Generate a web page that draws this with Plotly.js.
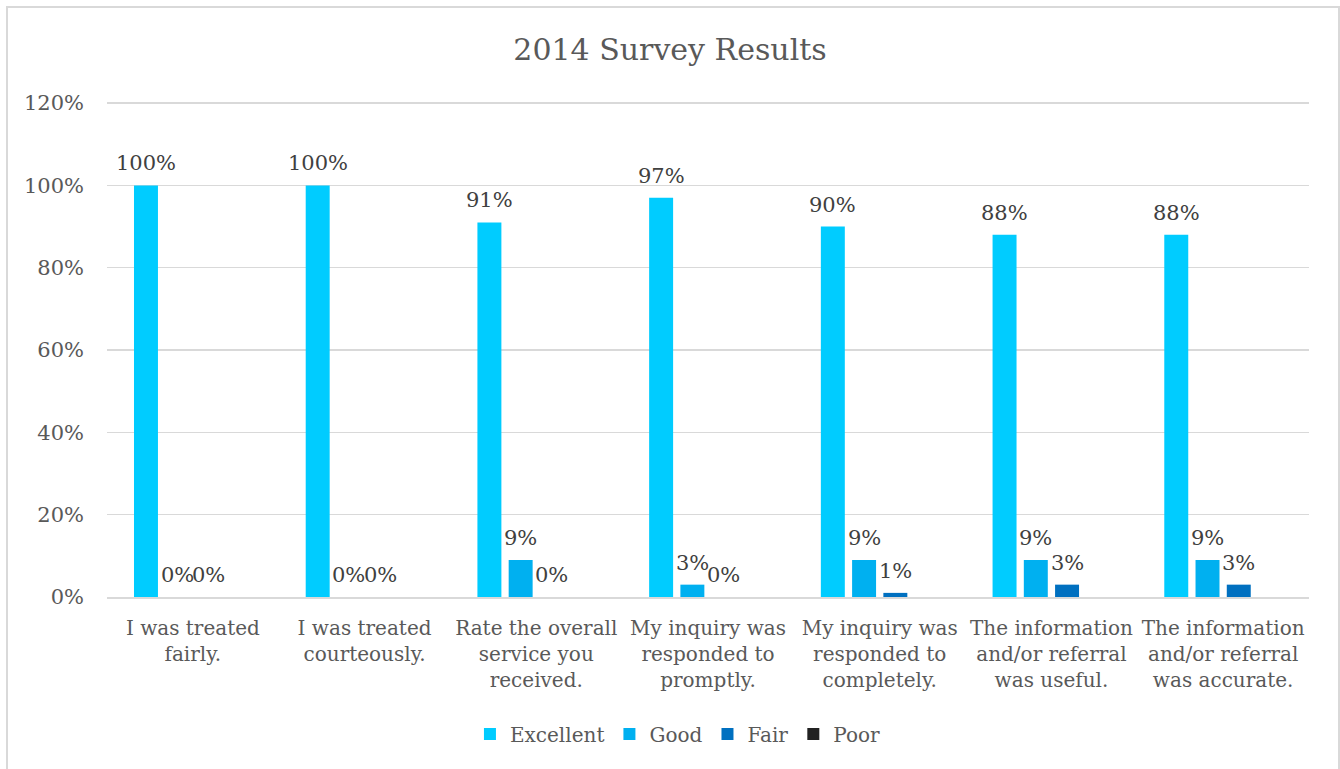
<!DOCTYPE html>
<html>
<head>
<meta charset="utf-8">
<script src="https://cdn.plot.ly/plotly-3.0.1.min.js"></script>
<style>
  html, body { margin: 0; padding: 0; background: #ffffff; overflow: hidden; width: 1340px; height: 769px; }
  #chart { position: absolute; left: 0; top: 0; width: 1340px; height: 769px; }
  #frame { position: absolute; left: 6px; top: 6px; width: 1330px; height: 770px; border: 2px solid #d9d9d9; border-bottom: none; pointer-events: none; box-sizing: content-box; }
</style>
</head>
<body>
<div id="chart"></div>
<div id="frame"></div>
<script>
const categories = [
  "I was treated<br>fairly.",
  "I was treated<br>courteously.",
  "Rate the overall<br>service you<br>received.",
  "My inquiry was<br>responded to<br>promptly.",
  "My inquiry was<br>responded to<br>completely.",
  "The information<br>and/or referral<br>was useful.",
  "The information<br>and/or referral<br>was accurate."
];
const excellent = [1.00, 1.00, 0.91, 0.97, 0.90, 0.88, 0.88];
const good      = [0.00, 0.00, 0.09, 0.03, 0.09, 0.09, 0.09];
const fair      = [0.00, 0.00, 0.00, 0.00, 0.01, 0.03, 0.03];
const poor      = [0.00, 0.00, 0.00, 0.00, 0.00, 0.00, 0.00];
const seriesNames = ["Excellent", "Good", "Fair", "Poor"];
const labelledSeries = [true, true, true, false];
const yTickVals = [0, 0.2, 0.4, 0.6, 0.8, 1.0, 1.2];
const yTickText = ["0%", "20%", "40%", "60%", "80%", "100%", "120%"];

const FONT = "'DejaVu Serif', 'Liberation Serif', serif";
const colors = ["#00CCFF", "#00B0F0", "#0070C0", "#222222"];
const values = [excellent, good, fair, poor];

const W = 1340, H = 769;
const M = { l: 107, r: 31, t: 99, b: 172 };
const BARGAP = 0.272, BARGROUPGAP = 0.233;

const traces = values.map((v, i) => ({
  type: "bar",
  name: seriesNames[i],
  x: categories,
  y: v,
  marker: { color: colors[i] },
  textposition: "none",
  hoverinfo: "skip"
}));

// data labels: anchored on each bar's (category, value) through the axes,
// shifted sideways to the bar's slot within the group
const plotW = W - M.l - M.r;
const catW = plotW / categories.length;
const slot = catW * (1 - BARGAP) / values.length;
const annotations = [];
values.forEach((v, i) => {
  if (!labelledSeries[i]) return;
  v.forEach((val, j) => {
    annotations.push({
      x: categories[j], y: val, xref: "x", yref: "y",
      text: Math.round(val * 100) + "%",
      showarrow: false,
      xanchor: "center", yanchor: "bottom",
      xshift: (i - (values.length - 1) / 2) * slot,
      yshift: 8,
      font: { family: FONT, size: 21, color: "#404040" }
    });
  });
});

const layout = {
  width: W,
  height: H,
  paper_bgcolor: "rgba(0,0,0,0)",
  plot_bgcolor: "#ffffff",
  margin: { l: M.l, r: M.r, t: M.t, b: M.b, autoexpand: false },
  title: {
    text: "2014 Survey Results",
    font: { family: FONT, size: 30, color: "#595959" },
    x: 0.5, xanchor: "center",
    y: 0.935, yanchor: "middle"
  },
  barmode: "group",
  bargap: BARGAP,
  bargroupgap: BARGROUPGAP,
  showlegend: true,
  legend: {
    orientation: "h",
    x: 0.475, xanchor: "center",
    y: -0.275, yanchor: "middle",
    font: { family: FONT, size: 20, color: "#595959" },
    itemwidth: 30,
    traceorder: "normal"
  },
  annotations: annotations,
  xaxis: {
    type: "category",
    tickfont: { family: FONT, size: 20, color: "#595959" },
    showgrid: false,
    showline: true,
    linecolor: "#d9d9d9",
    linewidth: 2,
    ticks: "",
    ticklabelstandoff: 12,
    automargin: false
  },
  yaxis: {
    range: [0, 1.21],
    tickvals: yTickVals,
    ticktext: yTickText,
    tickfont: { family: FONT, size: 21, color: "#595959" },
    showgrid: true,
    gridcolor: "#d9d9d9",
    gridwidth: 1.5,
    zeroline: false,
    showline: false,
    ticks: "",
    ticklabelstandoff: 22,
    automargin: false
  }
};

Plotly.newPlot("chart", traces, layout, { displayModeBar: false, staticPlot: true });
</script>
</body>
</html>
